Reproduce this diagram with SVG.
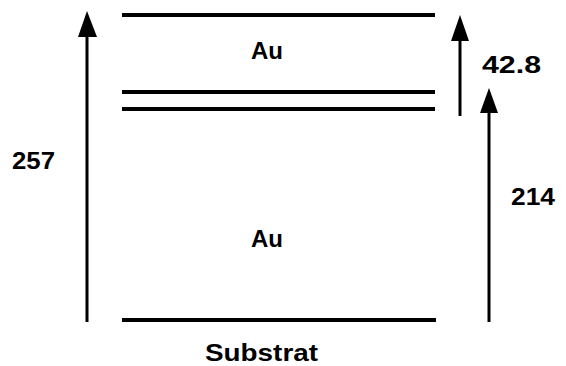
<svg xmlns="http://www.w3.org/2000/svg" width="566" height="366" viewBox="0 0 566 366">
<style>
.layer{stroke:#000;stroke-width:4;fill:none}
.arrow{stroke:#000;stroke-width:3;fill:none}
.head{fill:#000}
text{font-family:"Liberation Sans",Arial,sans-serif;font-weight:bold;font-size:23px;fill:#000}
</style>
<rect width="566" height="366" fill="#fff"/>
<g id="layers">
<line class="layer" x1="122" y1="15" x2="435" y2="15"/>
<line class="layer" x1="122" y1="92" x2="435" y2="92"/>
<line class="layer" x1="122" y1="109" x2="435" y2="109"/>
<line class="layer" x1="122" y1="320" x2="436" y2="320"/>
</g>
<g id="connectors">
<line class="arrow" x1="87" y1="322" x2="87" y2="34"/>
<polygon class="head" points="87,11 78,37 97,37"/>
<line class="arrow" x1="460" y1="116" x2="460" y2="38"/>
<polygon class="head" points="460,15 451,41 469,41"/>
<line class="arrow" x1="489" y1="322" x2="489" y2="110"/>
<polygon class="head" points="489,88 480,113 498,113"/>
</g>
<g id="labels">
<text x="251" y="59" textLength="32" lengthAdjust="spacingAndGlyphs">Au</text>
<text x="251" y="247" textLength="32" lengthAdjust="spacingAndGlyphs">Au</text>
<text x="12" y="169" textLength="43" lengthAdjust="spacingAndGlyphs">257</text>
<text x="482" y="73" textLength="59" lengthAdjust="spacingAndGlyphs">42.8</text>
<text x="511" y="205" textLength="44" lengthAdjust="spacingAndGlyphs">214</text>
<text x="205" y="361" textLength="113" lengthAdjust="spacingAndGlyphs">Substrat</text>
</g>
</svg>
